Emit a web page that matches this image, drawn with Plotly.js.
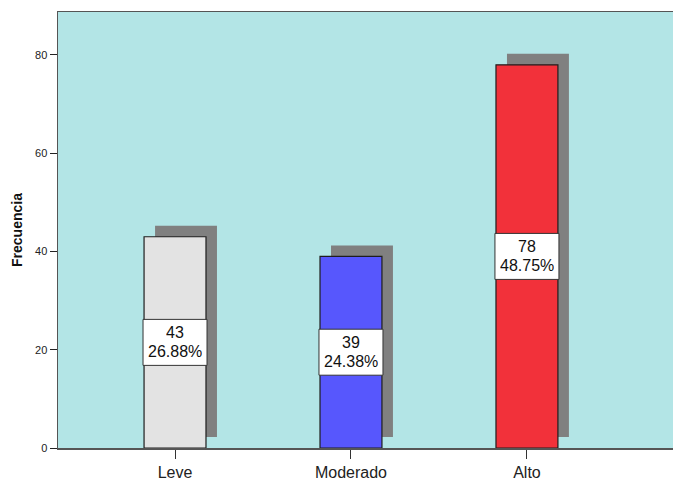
<!DOCTYPE html>
<html><head><meta charset="utf-8">
<script src="https://cdn.plot.ly/plotly-3.0.1.min.js"></script>
<style>html,body{margin:0;padding:0;background:#fff}</style>
</head><body><div id="chart" style="width:673px;height:480px"></div>
<script>
const categories = ["Leve", "Moderado", "Alto"];
const counts = [43, 39, 78];
const percents = ["26.88%", "24.38%", "48.75%"];
const colors = ["#e3e3e3", "#5757fd", "#f2313a"];

const xs = categories.map((c, i) => i);
const shadowUp = 2.24;
const FONT = "Liberation Sans, Arial, sans-serif";
const shadow = {
  type: "bar", x: xs, y: counts, base: shadowUp, width: 0.352, offset: -0.1135,
  marker: {color: "#808080", line: {width: 0}}, hoverinfo: "skip", showlegend: false
};
const bars = {
  type: "bar", x: xs, y: counts, width: 0.352, offset: -0.176,
  marker: {color: colors, line: {color: "#1e1e1e", width: 1.2}}, showlegend: false
};
const shapes = counts.map((v, i) => ({
  type: "rect", xref: "x", yref: "y", xsizemode: "pixel", ysizemode: "pixel",
  xanchor: xs[i], yanchor: v / 2, x0: -32, x1: 32, y0: -23, y1: 23,
  fillcolor: "#ffffff", line: {color: "#333", width: 1}, layer: "above"
}));
const annotations = [];
counts.forEach((v, i) => {
  annotations.push({
    x: xs[i], y: v / 2, xref: "x", yref: "y", showarrow: false, yshift: 10,
    height: 14, borderpad: 0,
    text: String(v), font: {family: FONT, size: 16, color: "#111"}
  });
  annotations.push({
    x: xs[i], y: v / 2, xref: "x", yref: "y", showarrow: false, yshift: -8.5,
    height: 14, borderpad: 0,
    text: percents[i], font: {family: FONT, size: 16, color: "#111"}
  });
});
const layout = {
  width: 673, height: 480,
  margin: {l: 58, r: 0, t: 12, b: 32},
  paper_bgcolor: "#ffffff", plot_bgcolor: "#b3e5e6",
  barmode: "overlay",
  xaxis: {
    range: [-0.665, 2.83], tickvals: xs, ticktext: categories,
    showgrid: false, zeroline: false, showline: true, mirror: true,
    linecolor: "#555", linewidth: 1.5, ticks: "outside", ticklen: 9, tickcolor: "#333",
    tickfont: {family: FONT, size: 16, color: "#222"}
  },
  yaxis: {
    range: [0, 88.75], tickvals: [0, 20, 40, 60, 80],
    showgrid: false, zeroline: false, showline: true, mirror: true,
    linecolor: "#555", linewidth: 1.5, ticks: "outside", ticklen: 7, tickcolor: "#222",
    tickfont: {family: FONT, size: 11, color: "#222"},
    title: {text: "<b>Frecuencia</b>", standoff: 9,
      font: {family: FONT, size: 14, color: "#111"}}
  },
  shapes: shapes,
  annotations: annotations
};
Plotly.newPlot("chart", [shadow, bars], layout, {displayModeBar: false, staticPlot: true});
</script></body></html>
